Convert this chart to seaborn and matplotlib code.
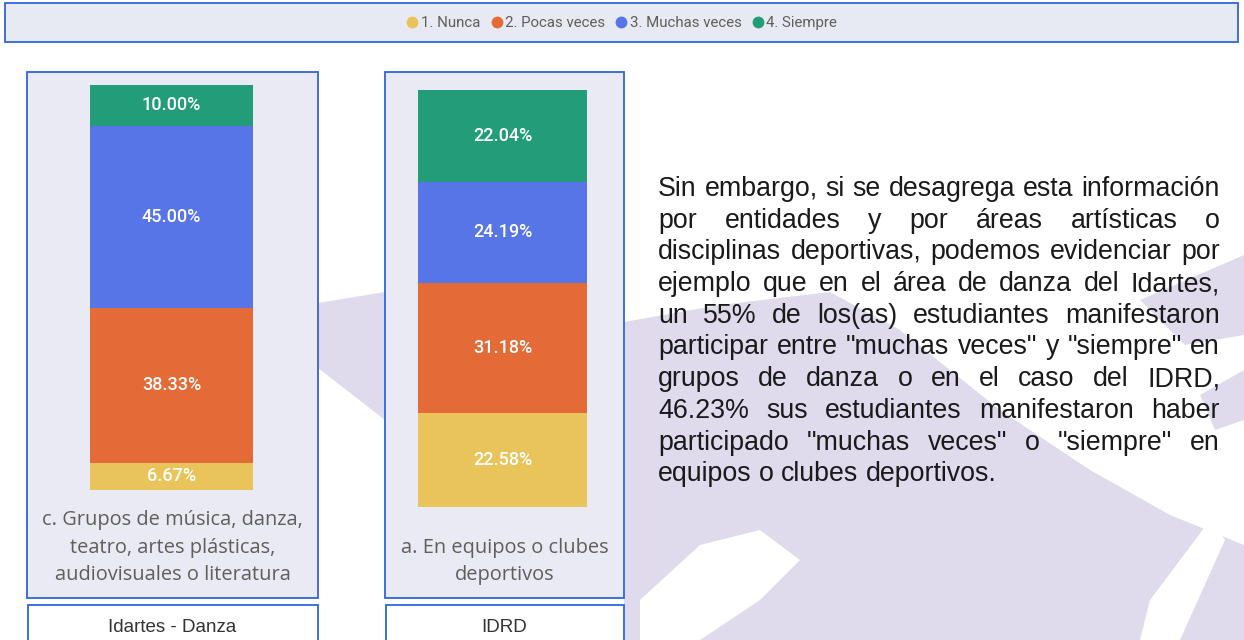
import matplotlib
matplotlib.use("Agg")
import matplotlib.pyplot as plt
import seaborn as sns
import pandas as pd
from matplotlib.patches import Rectangle, Polygon
from matplotlib.lines import Line2D

# Datos
categorias = ["1. Nunca", "2. Pocas veces", "3. Muchas veces", "4. Siempre"]
colores = ["#E9C45A", "#E46B37", "#5775E7", "#239D79"]

idartes_danza = [6.67, 38.33, 45.00, 10.00]
idrd = [22.58, 31.18, 24.19, 22.04]

pregunta_idartes = ["c. Grupos de música, danza,", "teatro, artes plásticas,",
                    "audiovisuales o literatura"]
pregunta_idrd = ["a. En equipos o clubes", "deportivos"]
entidades = ["Idartes - Danza", "IDRD"]

parrafo = [
    "Sin embargo, si se desagrega esta información",
    "por entidades y por áreas artísticas o",
    "disciplinas deportivas, podemos evidenciar por",
    "ejemplo que en el área de danza del Idartes,",
    "un 55% de los(as) estudiantes manifestaron",
    "participar entre \"muchas veces\" y \"siempre\" en",
    "grupos de danza o en el caso del IDRD,",
    "46.23% sus estudiantes manifestaron haber",
    "participado \"muchas veces\" o \"siempre\" en",
    "equipos o clubes deportivos.",
]

W, H = 1244, 640
sns.set_theme(style="white")
plt.rcParams["font.family"] = ["DejaVu Sans"]

fig = plt.figure(figsize=(W / 100, H / 100), dpi=100)
fig.patch.set_facecolor("white")
bg = fig.add_axes([0, 0, 1, 1])
bg.set_xlim(0, W)
bg.set_ylim(H, 0)
bg.axis("off")

borde = "#2F64DE"
fondo_panel = "#E9EAF4"
lila = "#DFDAEC"

# marca de agua (silueta difusa al fondo)
for pts in [
    [(318, 303), (385, 292), (385, 420), (318, 368)],
    [(624, 322), (720, 305), (830, 292), (900, 330), (1000, 410), (1090, 470),
     (1170, 515), (1244, 545), (1244, 640), (624, 640)],
    [(1140, 300), (1244, 255), (1244, 335), (1185, 345)],
    [(1200, 395), (1244, 370), (1244, 420), (1215, 430)],
]:
    bg.add_patch(Polygon(pts, closed=True, fc=lila, ec="none", zorder=0))
for pts in [
    [(640, 600), (700, 545), (760, 530), (800, 560), (760, 600), (700, 640), (640, 640)],
    [(1150, 600), (1210, 520), (1225, 540), (1180, 640), (1140, 640)],
]:
    bg.add_patch(Polygon(pts, closed=True, fc="white", ec="none", zorder=0.5))

# barra superior de leyenda
bg.add_patch(Rectangle((5, 3), 1233, 39, fc="#E8EAF3", ec=borde, lw=1.3, zorder=1))

# paneles
paneles = [(27, 318), (385, 624)]
for (x0, x1), ent in zip(paneles, entidades):
    bg.add_patch(Rectangle((x0, 72), x1 - x0, 526, fc=fondo_panel, ec=borde, lw=1.3, zorder=1))
    bg.add_patch(Rectangle((x0 + 1, 605), x1 - x0 - 1, 50, fc="white", ec=borde, lw=1.3, zorder=1))
    bg.text((x0 + x1) / 2, 628, ent, ha="center", va="center", fontsize=13.5,
            family="Liberation Sans", color="#333333", zorder=3)


def px_axes(x0, y0, x1, y1):
    return fig.add_axes([x0 / W, 1 - y1 / H, (x1 - x0) / W, (y1 - y0) / H])


def barra_apilada(ax, valores):
    df = pd.DataFrame({"cat": categorias, "valor": valores, "color": colores})
    df["acum"] = df["valor"].cumsum()
    df["base"] = df["acum"] - df["valor"]
    # se dibujan las sumas acumuladas de la mayor a la menor
    for i in range(len(df) - 1, -1, -1):
        sns.barplot(x=["x"], y=[df["acum"][i]], color=df["color"][i], width=1,
                    saturation=1, linewidth=0, ax=ax)
    for _, r in df.iterrows():
        ax.text(0, r["base"] + r["valor"] / 2, f"{r['valor']:.2f}%", ha="center",
                va="center", color="white", fontsize=13, family="Roboto",
                fontweight="medium")
    ax.set_xlim(-0.5, 0.5)
    ax.set_ylim(0, df["acum"].iloc[-1])
    ax.axis("off")


ax1 = px_axes(90, 85, 253, 490)
barra_apilada(ax1, idartes_danza)
ax2 = px_axes(418, 90, 587, 507)
barra_apilada(ax2, idrd)

# textos de las preguntas (última línea alineada abajo)
for (x0, x1), lineas in zip(paneles, [pregunta_idartes, pregunta_idrd]):
    n = len(lineas)
    for i, t in enumerate(lineas):
        y = 575 - (n - 1 - i) * 27.5
        bg.text((x0 + x1) / 2, y, t, ha="center", va="center", fontsize=14.4,
                family="Open Sans", color="#605E5C", zorder=3)

# leyenda
handles = [Line2D([], [], marker="o", ls="", markersize=7.5, color=c) for c in colores]
fig.legend(handles, categorias, loc="center", bbox_to_anchor=(621 / W, 1 - 23 / H),
           ncol=4, frameon=False, handletextpad=0.05, columnspacing=0.6,
           handlelength=1.0, prop={"family": "Roboto", "size": 10.8},
           labelcolor="#605E5C")

# párrafo justificado
fig.canvas.draw()
renderer = fig.canvas.get_renderer()
x_izq, x_der = 658, 1220
prueba = bg.text(0, 0, parrafo[0], fontsize=10, family="Liberation Sans")
ancho10 = prueba.get_window_extent(renderer).width
prueba.remove()
tam = 10 * (x_der - x_izq) / ancho10

for i, linea in enumerate(parrafo):
    y = 196 + i * 31.7
    palabras = linea.split(" ")
    objs = [bg.text(0, y, p, fontsize=tam, family="Liberation Sans", color="#1A1A1A",
                    va="baseline", ha="left", zorder=3) for p in palabras]
    anchos = [o.get_window_extent(renderer).width for o in objs]
    if i == len(parrafo) - 1:
        esp = bg.text(0, 0, "a b", fontsize=tam, family="Liberation Sans")
        e2 = bg.text(0, 0, "ab", fontsize=tam, family="Liberation Sans")
        hueco = esp.get_window_extent(renderer).width - e2.get_window_extent(renderer).width
        esp.remove()
        e2.remove()
    else:
        hueco = (x_der - x_izq - sum(anchos)) / (len(palabras) - 1)
    x = x_izq
    for o, a in zip(objs, anchos):
        o.set_x(x)
        x += a + hueco

fig.savefig("out.png", dpi=100, facecolor="white")
